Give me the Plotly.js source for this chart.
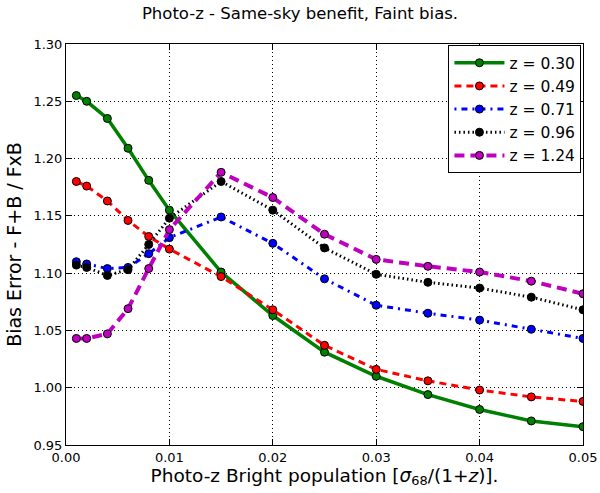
<!DOCTYPE html>
<html>
<head>
<meta charset="utf-8">
<script src="https://cdn.plot.ly/plotly-3.0.1.min.js"></script>
<style>html,body{margin:0;padding:0;background:#fff;}#chart{width:600px;height:493px;}</style>
</head>
<body>
<div id="chart"></div>
<script>
var xValues = [0.001, 0.002, 0.004, 0.006, 0.008, 0.010, 0.015, 0.020, 0.025, 0.030, 0.035, 0.040, 0.045, 0.050];
var seriesNames = ["z = 0.30", "z = 0.49", "z = 0.71", "z = 0.96", "z = 1.24"];
var z030 = [1.255, 1.250, 1.235, 1.209, 1.181, 1.155, 1.101, 1.063, 1.031, 1.010, 0.994, 0.981, 0.971, 0.966];
var z049 = [1.180, 1.176, 1.163, 1.146, 1.132, 1.121, 1.097, 1.068, 1.037, 1.016, 1.006, 0.998, 0.992, 0.988];
var z071 = [1.110, 1.108, 1.104, 1.105, 1.117, 1.131, 1.149, 1.126, 1.095, 1.072, 1.065, 1.059, 1.051, 1.043];
var z096 = [1.107, 1.105, 1.098, 1.103, 1.125, 1.148, 1.180, 1.155, 1.122, 1.099, 1.092, 1.087, 1.079, 1.068];
var z124 = [1.043, 1.043, 1.047, 1.069, 1.104, 1.138, 1.188, 1.166, 1.134, 1.112, 1.106, 1.101, 1.093, 1.082];
var xTickVals = [0.00, 0.01, 0.02, 0.03, 0.04, 0.05];
var xTickText = ["0.00", "0.01", "0.02", "0.03", "0.04", "0.05"];
var yTickVals = [0.95, 1.00, 1.05, 1.10, 1.15, 1.20, 1.25, 1.30];
var yTickText = ["0.95", "1.00", "1.05", "1.10", "1.15", "1.20", "1.25", "1.30"];

var allY = [z030, z049, z071, z096, z124];
var colors = ["#008000", "#ff0000", "#0000ff", "#000000", "#bf00bf"];
var dashes = ["solid", "7px,5px", "2px,5px,6px,5px", "1.5px,3px", "10px,6px"];
var widths = [3.5, 3, 3, 3, 4];

var traces = allY.map(function (ys, i) {
  return {
    x: xValues, y: ys, name: seriesNames[i], type: "scatter", mode: "lines+markers",
    line: {color: colors[i], dash: dashes[i], width: widths[i]},
    marker: {color: colors[i], size: 8, line: {color: "#000", width: 1}}
  };
});

var font = "DejaVu Sans, sans-serif";
var layout = {
  width: 600, height: 493,
  margin: {l: 66, r: 17, t: 44, b: 48},
  paper_bgcolor: "#fff", plot_bgcolor: "#fff",
  font: {family: font, color: "#000", size: 13},
  title: {text: "Photo-z - Same-sky benefit, Faint bias.", font: {family: font, size: 16.5}, x: 0.5, xanchor: "center", y: 0.985, yanchor: "top"},
  xaxis: {
    range: [0, 0.05], tickvals: xTickVals, ticktext: xTickText,
    ticks: "inside", ticklen: 6, tickcolor: "#000", mirror: "ticks",
    showline: true, linecolor: "#000", linewidth: 1,
    showgrid: true, gridcolor: "#000", griddash: "1px,3px", gridwidth: 1, zeroline: false,
    tickfont: {family: font, size: 13},
    title: {text: "Photo-z Bright population [<i>σ</i><sub>68</sub>/(1+<i>z</i>)].", font: {family: font, size: 18.5}, standoff: 3}
  },
  yaxis: {
    range: [0.95, 1.30], tickvals: yTickVals, ticktext: yTickText,
    ticks: "inside", ticklen: 6, tickcolor: "#000", mirror: "ticks",
    showline: true, linecolor: "#000", linewidth: 1,
    showgrid: true, gridcolor: "#000", griddash: "1px,3px", gridwidth: 1, zeroline: false,
    tickfont: {family: font, size: 13},
    title: {text: "Bias Error - F+B / FxB", font: {family: font, size: 19}, standoff: 6}
  },
  legend: {
    x: 0.997, y: 0.997, xanchor: "right", yanchor: "top",
    bgcolor: "#fff", bordercolor: "#000", borderwidth: 1,
    font: {family: font, size: 15.5}, itemwidth: 50, tracegroupgap: 0
  },
  showlegend: true
};
Plotly.newPlot("chart", traces, layout, {displayModeBar: false, staticPlot: true});
</script>
</body>
</html>
